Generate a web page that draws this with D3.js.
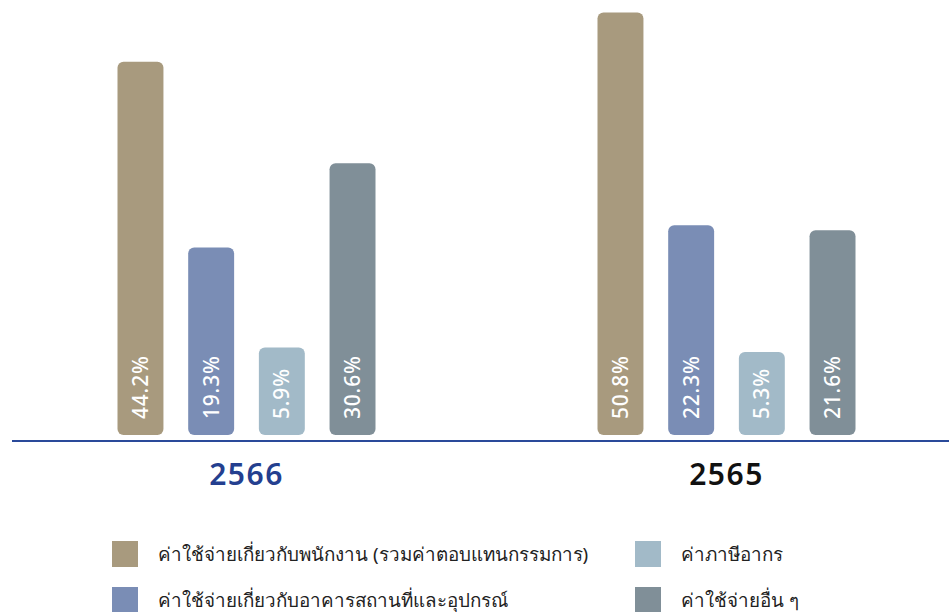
<!DOCTYPE html>
<html>
<head>
<meta charset="utf-8">
<script src="https://cdn.jsdelivr.net/npm/d3@7"></script>
<style>
  body { margin: 0; background: #fff; }
  svg { display: block; font-family: "Noto Sans", "Open Sans", sans-serif; }
</style>
</head>
<body>
<svg id="chart"></svg>
<script>
// data
var years = ["2566", "2565"];
var categories = [
  "ค่าใช้จ่ายเกี่ยวกับพนักงาน (รวมค่าตอบแทนกรรมการ)",
  "ค่าใช้จ่ายเกี่ยวกับอาคารสถานที่และอุปกรณ์",
  "ค่าภาษีอากร",
  "ค่าใช้จ่ายอื่น ๆ"
];
var values2566 = [44.2, 19.3, 5.9, 30.6];
var values2565 = [50.8, 22.3, 5.3, 21.6];
var colors = ["#a89a7e", "#7a8db5", "#a2bac8", "#808f98"];
var yearColors = ["#243f8f", "#111111"];

var width = 949, height = 612;
var baseY = 435;

var svg = d3.select("#chart").attr("width", width).attr("height", height);

var rows = [];
years.forEach(function (yr, gi) {
  var vals = gi == 0 ? values2566 : values2565;
  categories.forEach(function (c, ci) {
    rows.push({ year: yr, cat: c, idx: ci, value: vals[ci] });
  });
});

var x0 = d3.scalePoint().domain(years).range([246.5, 726.5]);
var x1 = d3.scaleBand().domain(categories).range([-129, 129]).paddingInner(0.35).paddingOuter(0);
var y = d3.scaleLinear().domain([0, 50.8]).range([391.6, 12.4]);

// bars
var g = svg.append("g");
g.selectAll("rect.bar").data(rows).enter().append("rect")
  .attr("class", "bar")
  .attr("x", function (d) { return x0(d.year) + x1(d.cat); })
  .attr("y", function (d) { return y(d.value); })
  .attr("width", x1.bandwidth())
  .attr("height", function (d) { return baseY - y(d.value); })
  .attr("rx", 6).attr("ry", 6)
  .attr("fill", function (d) { return colors[d.idx]; });

// value labels (rotated)
g.selectAll("text.val").data(rows).enter().append("text")
  .attr("class", "val")
  .attr("transform", function (d) {
    var cx = x0(d.year) + x1(d.cat) + x1.bandwidth() / 2;
    return "translate(" + (cx + 7.5) + "," + 419 + ") rotate(-90)";
  })
  .attr("fill", "#fff")
  .attr("font-size", 21)
  .attr("font-weight", 500)
  .attr("letter-spacing", 0.8)
  .text(function (d) { return d.value.toFixed(1) + "%"; });

// baseline
svg.append("line")
  .attr("x1", 12).attr("x2", width)
  .attr("y1", 441).attr("y2", 441)
  .attr("stroke", "#2a4a9a").attr("stroke-width", 2);

// year labels
svg.selectAll("text.year").data(years).enter().append("text")
  .attr("class", "year")
  .attr("x", function (d) { return x0(d); })
  .attr("y", 485)
  .attr("text-anchor", "middle")
  .attr("font-size", 30)
  .attr("font-weight", 600)
  .attr("letter-spacing", 1.5)
  .attr("fill", function (d, i) { return yearColors[i]; })
  .text(function (d) { return d; });

// legend: two columns, two rows
var legendPos = [[112, 541], [112, 587], [635, 541], [635, 587]];
var leg = svg.selectAll("g.leg").data(categories).enter().append("g")
  .attr("class", "leg")
  .attr("transform", function (d, i) {
    return "translate(" + legendPos[i][0] + "," + legendPos[i][1] + ")";
  });
leg.append("rect").attr("width", 26).attr("height", 26)
  .attr("fill", function (d, i) { return colors[i]; });
leg.append("text")
  .attr("x", 46).attr("y", 13)
  .attr("dy", "0.35em")
  .attr("font-size", 18.8)
  .attr("fill", "#222")
  .text(function (d) { return d; });
</script>
</body>
</html>
